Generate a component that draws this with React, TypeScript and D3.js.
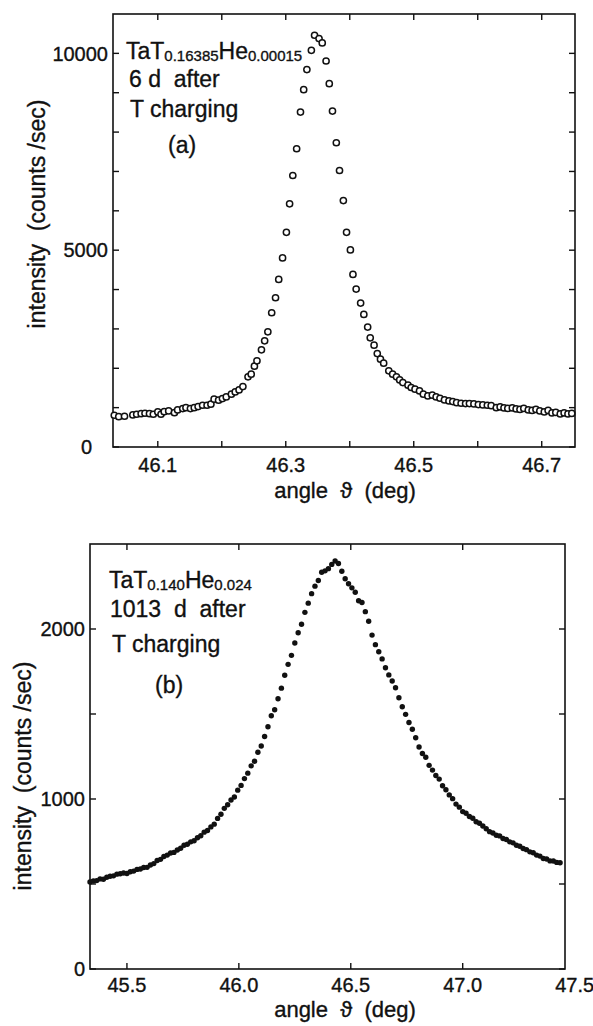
import * as d3 from 'd3'

// panel (a): TaT0.16385He0.00015, 6 d after charging (open circles)
const angleA = [46.032, 46.039, 46.048, 46.061, 46.067, 46.074, 46.080, 46.087, 46.093, 46.100,
  46.105, 46.110, 46.117, 46.126, 46.131, 46.139, 46.144, 46.151, 46.157, 46.163,
  46.170, 46.177, 46.183, 46.188, 46.195, 46.201, 46.207, 46.215, 46.221, 46.227,
  46.233, 46.241, 46.246, 46.251, 46.255, 46.262, 46.267, 46.272, 46.278, 46.284,
  46.289, 46.295, 46.301, 46.306, 46.311, 46.317, 46.323, 46.328, 46.333, 46.340,
  46.345, 46.352, 46.357, 46.363, 46.368, 46.373, 46.379, 46.384, 46.390, 46.395,
  46.401, 46.405, 46.410, 46.417, 46.422, 46.428, 46.432, 46.438, 46.443, 46.448,
  46.453, 46.461, 46.467, 46.473, 46.478, 46.483, 46.491, 46.496, 46.502, 46.509,
  46.515, 46.522, 46.529, 46.535, 46.541, 46.548, 46.555, 46.561, 46.567, 46.574,
  46.581, 46.587, 46.594, 46.601, 46.608, 46.615, 46.621, 46.629, 46.635, 46.641,
  46.647, 46.654, 46.660, 46.666, 46.672, 46.679, 46.685, 46.691, 46.697, 46.704,
  46.710, 46.716, 46.722, 46.729, 46.735, 46.741, 46.747]
const countsA = [807, 771, 781, 814, 832, 847, 858, 847, 832, 891,
  832, 898, 916, 873, 942, 975, 1000, 975, 1000, 1026,
  1061, 1061, 1087, 1214, 1189, 1229, 1273, 1341, 1400, 1451,
  1535, 1782, 1850, 2054, 2189, 2469, 2698, 2927, 3410, 3792,
  4258, 4803, 5454, 6177, 6897, 7577, 8508, 9078, 9587, 10078,
  10460, 10376, 10264, 9806, 9231, 8533, 7729, 7024, 6261, 5454,
  5006, 4385, 4013, 3657, 3367, 3046, 2774, 2588, 2374, 2232,
  2130, 1934, 1850, 1782, 1705, 1636, 1570, 1512, 1468, 1425,
  1341, 1298, 1316, 1273, 1239, 1196, 1171, 1153, 1127, 1112,
  1102, 1102, 1094, 1077, 1069, 1061, 1051, 1000, 1018, 993,
  980, 993, 967, 954, 980, 942, 929, 954, 916, 891,
  929, 865, 878, 840, 865, 840, 853]

// panel (b): TaT0.140He0.024, 1013 d after charging (filled dots)
const angleB = [45.335, 45.350, 45.365, 45.380, 45.395, 45.410, 45.425, 45.440, 45.455, 45.470,
  45.485, 45.500, 45.515, 45.530, 45.545, 45.560, 45.575, 45.590, 45.605, 45.620,
  45.635, 45.650, 45.665, 45.680, 45.695, 45.710, 45.725, 45.740, 45.755, 45.770,
  45.785, 45.800, 45.815, 45.830, 45.845, 45.860, 45.875, 45.890, 45.905, 45.920,
  45.935, 45.950, 45.965, 45.980, 45.995, 46.010, 46.025, 46.040, 46.055, 46.070,
  46.085, 46.100, 46.115, 46.130, 46.145, 46.160, 46.175, 46.190, 46.205, 46.220,
  46.235, 46.250, 46.265, 46.280, 46.295, 46.310, 46.325, 46.340, 46.355, 46.370,
  46.385, 46.400, 46.415, 46.430, 46.445, 46.460, 46.475, 46.490, 46.505, 46.520,
  46.535, 46.550, 46.565, 46.580, 46.595, 46.610, 46.625, 46.640, 46.655, 46.670,
  46.685, 46.700, 46.715, 46.730, 46.745, 46.760, 46.775, 46.790, 46.805, 46.820,
  46.835, 46.850, 46.865, 46.880, 46.895, 46.910, 46.925, 46.940, 46.955, 46.970,
  46.985, 47.000, 47.015, 47.030, 47.045, 47.060, 47.075, 47.090, 47.105, 47.120,
  47.135, 47.150, 47.165, 47.180, 47.195, 47.210, 47.225, 47.240, 47.255, 47.270,
  47.285, 47.300, 47.315, 47.330, 47.345, 47.360, 47.375, 47.390, 47.405, 47.420,
  47.435]
const countsB = [512, 518, 520, 530, 528, 540, 546, 548, 558, 560,
  565, 562, 572, 576, 586, 588, 597, 598, 612, 620,
  638, 645, 662, 670, 682, 686, 700, 710, 728, 734,
  748, 754, 772, 784, 805, 815, 836, 852, 886, 910,
  945, 966, 994, 1012, 1052, 1080, 1120, 1152, 1195, 1222,
  1275, 1312, 1368, 1425, 1490, 1525, 1590, 1652, 1728, 1792,
  1845, 1918, 1978, 2028, 2098, 2152, 2208, 2252, 2285, 2334,
  2342, 2355, 2380, 2400, 2385, 2340, 2296, 2266, 2242, 2216,
  2166, 2156, 2102, 2046, 1964, 1908, 1866, 1824, 1772, 1730,
  1694, 1654, 1596, 1543, 1498, 1450, 1410, 1360, 1306, 1268,
  1246, 1198, 1170, 1138, 1117, 1078, 1054, 1024, 1002, 970,
  952, 926, 916, 897, 887, 866, 857, 841, 825, 808,
  800, 787, 783, 768, 762, 748, 742, 728, 722, 709,
  702, 689, 684, 670, 664, 650, 647, 636, 635, 627,
  625]

const xTicksA = [46.1, 46.2, 46.3, 46.4, 46.5, 46.6, 46.7]
const xLabelsA = [46.1, 46.3, 46.5, 46.7]
const yTicksA = [0, 1000, 2000, 3000, 4000, 5000, 6000, 7000, 8000, 9000, 10000]
const yLabelsA = [0, 5000, 10000]

const xTicksB = [45.5, 46.0, 46.5, 47.0]
const xLabelsB = [45.5, 46.0, 46.5, 47.0, 47.5]
const yTicksB = [0, 500, 1000, 1500, 2000]
const yLabelsB = [0, 1000, 2000]

const FONT = '"Liberation Sans", Arial, sans-serif'
const TICK = 6
const INK = '#111'

type Part = { t: string; sub?: boolean }

const Panel = ({ box, xDomain, yDomain, xTicks, xLabels, xFmt, yTicks, yLabels, angles, counts,
  open, yTitle, xTitleY, xLabelY, zeroDx, formula, notes, tag }: any) => {
  const x = d3.scaleLinear().domain(xDomain).range([box.left, box.right])
  const y = d3.scaleLinear().domain(yDomain).range([box.bottom, box.top])

  return (
    <g>
      <rect x={box.left} y={box.top} width={box.right - box.left} height={box.bottom - box.top}
        fill="none" stroke={INK} strokeWidth={1.6} />
      {xTicks.map((t: number) => (
        <g key={'xt' + t}>
          <line x1={x(t)} x2={x(t)} y1={box.bottom} y2={box.bottom - TICK} stroke={INK} strokeWidth={1.4} />
          <line x1={x(t)} x2={x(t)} y1={box.top} y2={box.top + TICK} stroke={INK} strokeWidth={1.4} />
        </g>
      ))}
      {yTicks.map((t: number) => (
        <g key={'yt' + t}>
          <line x1={box.left} x2={box.left + TICK} y1={y(t)} y2={y(t)} stroke={INK} strokeWidth={1.4} />
          <line x1={box.right} x2={box.right - TICK} y1={y(t)} y2={y(t)} stroke={INK} strokeWidth={1.4} />
        </g>
      ))}
      <g stroke={INK} strokeWidth={0.35}>
        {xLabels.map((t: number) => (
          <text key={'xl' + t} x={x(t)} y={xLabelY} textAnchor="middle" fontSize={20}>{xFmt(t)}</text>
        ))}
        {yLabels.map((t: number) => (
          <text key={'yl' + t} x={box.left - 5 - (t === 0 ? zeroDx : 0)} y={y(t)} dy="0.36em"
            textAnchor="end" fontSize={20}>{t}</text>
        ))}
        <text x={345} y={xTitleY} textAnchor="middle" fontSize={22} style={{ whiteSpace: 'pre' }}>
          {'angle  \u03D1  (deg)'}
        </text>
        <text transform={`translate(${yTitle.x},${yTitle.y}) rotate(-90)`} textAnchor="middle"
          fontSize={23} style={{ whiteSpace: 'pre' }}>
          {'intensity  (counts /sec)'}
        </text>

        <text x={formula.x} y={formula.y} fontSize={23}>
          {formula.parts.map((p: Part, i: number) => (
            <tspan key={i} fontSize={p.sub ? 15 : 23} dy={p.sub ? 2 : (i > 0 ? -2 : 0)}>{p.t}</tspan>
          ))}
        </text>
        {notes.map((n: any, i: number) => (
          <text key={'n' + i} x={n.x} y={n.y} fontSize={23} style={{ whiteSpace: 'pre' }}>{n.t}</text>
        ))}
        <text x={tag.x} y={tag.y} fontSize={23}>{tag.t}</text>
      </g>

      {angles.map((a: number, i: number) => open ? (
        <circle key={'p' + i} cx={x(a)} cy={y(counts[i])} r={3.1} fill="#fff" stroke={INK} strokeWidth={1.5} />
      ) : (
        <circle key={'p' + i} cx={x(a)} cy={y(counts[i])} r={2.7} fill={INK} />
      ))}
    </g>
  )
}

export default function App() {
  return (
    <svg width={593} height={1026} style={{ position: 'absolute', left: 0, top: 0, background: '#fff' }}
      fontFamily={FONT} fill={INK}>
      <Panel
        box={{ left: 113, right: 575, top: 14, bottom: 447 }}
        xDomain={[46.030, 46.752]} yDomain={[0, 11000]}
        xTicks={xTicksA} xLabels={xLabelsA} xFmt={d3.format('.1f')}
        yTicks={yTicksA} yLabels={yLabelsA}
        angles={angleA} counts={countsA} open
        yTitle={{ x: 45, y: 214 }} xTitleY={498} xLabelY={472} zeroDx={16}
        formula={{ x: 126, y: 59, parts: [{ t: 'TaT' }, { t: '0.16385', sub: true }, { t: 'He' }, { t: '0.00015', sub: true }] }}
        notes={[{ x: 129, y: 87, t: '6 d  after' }, { x: 130, y: 117, t: 'T charging' }]}
        tag={{ x: 168, y: 153, t: '(a)' }}
      />
      <Panel
        box={{ left: 90, right: 565, top: 544, bottom: 969 }}
        xDomain={[45.335, 47.457]} yDomain={[0, 2500]}
        xTicks={xTicksB} xLabels={xLabelsB} xFmt={d3.format('.1f')}
        yTicks={yTicksB} yLabels={yLabelsB}
        angles={angleB} counts={countsB} open={false}
        yTitle={{ x: 31, y: 776 }} xTitleY={1017} xLabelY={992} zeroDx={0}
        formula={{ x: 109, y: 588, parts: [{ t: 'TaT' }, { t: '0.140', sub: true }, { t: 'He' }, { t: '0.024', sub: true }] }}
        notes={[{ x: 110, y: 617, t: '1013  d  after' }, { x: 112, y: 652, t: 'T charging' }]}
        tag={{ x: 155, y: 693, t: '(b)' }}
      />
    </svg>
  )
}
